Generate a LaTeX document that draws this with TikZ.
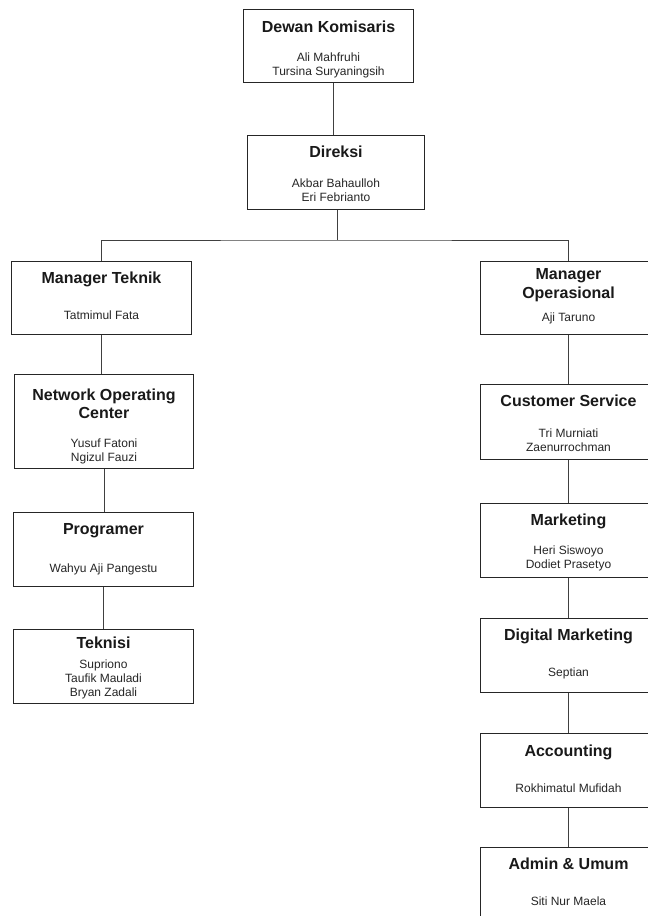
\documentclass[tikz,border=0pt]{standalone}
\usepackage{fontspec}
\setmainfont{Liberation Sans}
\begin{document}
\begin{tikzpicture}[x=1pt,y=-1pt,
  box/.style={draw=black!85,line width=1pt,fill=white,inner sep=0pt,anchor=north west},
  ttl/.style={anchor=base,inner sep=0pt,font=\fontsize{16}{19.2}\selectfont\bfseries,text=black!90},
  nm/.style={anchor=base,inner sep=0pt,font=\fontsize{12}{14.4}\selectfont,text=black!85},
  link/.style={draw=black!75,line width=1pt}]
\useasboundingbox (0,0) rectangle (648,916);
\clip (0,0) rectangle (648,916);
\fill[white] (0,0) rectangle (648,916);
% boxes
\node[box,minimum width=170pt,minimum height=73pt] (dk) at (243,9) {};
\node[box,minimum width=177pt,minimum height=74pt] (dir) at (247,135) {};
\node[box,minimum width=180pt,minimum height=73pt] (mt) at (11,261) {};
\node[box,minimum width=179pt,minimum height=94pt] (noc) at (14,374) {};
\node[box,minimum width=180pt,minimum height=74pt] (prog) at (13,512) {};
\node[box,minimum width=180pt,minimum height=74pt] (tek) at (13,629) {};
\node[box,minimum width=176pt,minimum height=73pt] (mo) at (480,261) {};
\node[box,minimum width=176pt,minimum height=75pt] (cs) at (480,384) {};
\node[box,minimum width=176pt,minimum height=74pt] (mkt) at (480,503) {};
\node[box,minimum width=176pt,minimum height=74pt] (dm) at (480,618) {};
\node[box,minimum width=176pt,minimum height=74pt] (acc) at (480,733) {};
\node[box,minimum width=176pt,minimum height=74pt] (adm) at (480,847) {};
% texts
\node[ttl] (dk-t) at (dk.north |- 0,32) {Dewan Komisaris};
\node[nm] (dk-1) at (dk.north |- 0,61) {Ali Mahfruhi};
\node[nm] (dk-2) at (dk.north |- 0,75) {Tursina Suryaningsih};
\node[ttl] (dir-t) at (dir.north |- 0,157) {Direksi};
\node[nm] (dir-1) at (dir.north |- 0,187) {Akbar Bahaulloh};
\node[nm] (dir-2) at (dir.north |- 0,201) {Eri Febrianto};
\node[ttl] (mt-t) at (mt.north |- 0,283) {Manager Teknik};
\node[nm] (mt-1) at (mt.north |- 0,319) {Tatmimul Fata};
\node[ttl] (noc-t1) at (noc.north |- 0,400) {Network Operating};
\node[ttl] (noc-t2) at (noc.north |- 0,418) {Center};
\node[nm] (noc-1) at (noc.north |- 0,447) {Yusuf Fatoni};
\node[nm] (noc-2) at (noc.north |- 0,461) {Ngizul Fauzi};
\node[ttl] (prog-t) at (prog.north |- 0,534) {Programer};
\node[nm] (prog-1) at (prog.north |- 0,572) {Wahyu Aji Pangestu};
\node[ttl] (tek-t) at (tek.north |- 0,648) {Teknisi};
\node[nm] (tek-1) at (tek.north |- 0,668) {Supriono};
\node[nm] (tek-2) at (tek.north |- 0,682) {Taufik Mauladi};
\node[nm] (tek-3) at (tek.north |- 0,696) {Bryan Zadali};
\node[ttl] (mo-t1) at (mo.north |- 0,279) {Manager};
\node[ttl] (mo-t2) at (mo.north |- 0,298) {Operasional};
\node[nm] (mo-1) at (mo.north |- 0,321) {Aji Taruno};
\node[ttl] (cs-t) at (cs.north |- 0,406) {Customer Service};
\node[nm] (cs-1) at (cs.north |- 0,437) {Tri Murniati};
\node[nm] (cs-2) at (cs.north |- 0,451) {Zaenurrochman};
\node[ttl] (mkt-t) at (mkt.north |- 0,525) {Marketing};
\node[nm] (mkt-1) at (mkt.north |- 0,554) {Heri Siswoyo};
\node[nm] (mkt-2) at (mkt.north |- 0,568) {Dodiet Prasetyo};
\node[ttl] (dm-t) at (dm.north |- 0,640) {Digital Marketing};
\node[nm] (dm-1) at (dm.north |- 0,676) {Septian};
\node[ttl] (acc-t) at (acc.north |- 0,756) {Accounting};
\node[nm] (acc-1) at (acc.north |- 0,792) {Rokhimatul Mufidah};
\node[ttl] (adm-t) at (adm.north |- 0,869) {Admin \& Umum};
\node[nm] (adm-1) at (adm.north |- 0,905) {Siti Nur Maela};
% connectors
\draw[link] ([xshift=5pt]dk.south) -- ([xshift=-2.5pt]dir.north);
\coordinate (bar) at ([xshift=1.5pt,yshift=-30pt]dir.south);
\draw[link] ([xshift=1.5pt]dir.south) -- (bar);
\draw[link] (mt.north) |- (bar) -| (mo.north);
\draw[link] (mt.south) -- (mt.south |- noc.north);
\draw[link] (noc.south) -- (noc.south |- prog.north);
\draw[link] (prog.south) -- (prog.south |- tek.north);
\draw[link] (mo.south) -- (cs.north);
\draw[link] (cs.south) -- (mkt.north);
\draw[link] (mkt.south) -- (dm.north);
\draw[link] (dm.south) -- (acc.north);
\draw[link] (acc.south) -- (adm.north);
\end{tikzpicture}
\end{document}
